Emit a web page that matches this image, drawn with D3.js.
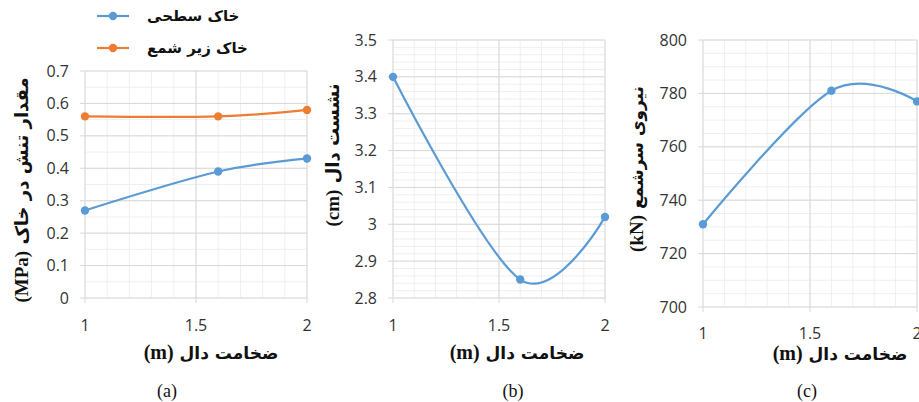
<!DOCTYPE html>
<html>
<head>
<meta charset="utf-8">
<script src="https://cdn.jsdelivr.net/npm/d3@7"></script>
<style>
  body { margin: 0; background: #fff; }
  svg { display: block; }
</style>
</head>
<body>
<svg id="chart" width="919" height="402"></svg>
<script>
// slab thickness (m)
const thickness = [1, 1.6, 2];
const xTicks = [1, 1.5, 2];

// (a) stress in soil (MPa)
const stressSurface = [0.27, 0.39, 0.43];
const stressUnderPile = [0.56, 0.56, 0.58];
const stressTicks = [0, 0.1, 0.2, 0.3, 0.4, 0.5, 0.6, 0.7];

// (b) slab settlement (cm)
const settlement = [3.4, 2.85, 3.02];
const settlementTicks = [2.8, 2.9, 3, 3.1, 3.2, 3.3, 3.4, 3.5];

// (c) pile-head force (kN)
const pileForce = [731, 781, 777];
const forceTicks = [700, 720, 740, 760, 780, 800];

const legendNames = ["خاک سطحی", "خاک زیر شمع"];
const xTitle = "ضخامت دال ";
const yTitles = ["مقدار تنش در خاک ", "نشست دال ", "نیروی سرشمع "];
const yUnits = ["(MPa)", "(cm)", "(kN)"];
const panelLetters = ["(a)", "(b)", "(c)"];

const blue = "#5b9bd5", orange = "#ed7d31";
const svg = d3.select("#chart");

function panel(p) {
    const g = svg.append("g");
    const x = d3.scaleLinear().domain([1, 2]).range([p.left, p.right]);
    const y = d3.scaleLinear().domain(p.yDomain).range([p.bottom, p.top]);

    // minor grid
    g.selectAll("line.minor-x")
        .data(d3.range(1, 2.0001, 0.1))
        .join("line")
        .attr("x1", d => x(d)).attr("x2", d => x(d))
        .attr("y1", p.top).attr("y2", p.bottom)
        .attr("stroke", "#efefef");
    g.selectAll("line.minor-y")
        .data(d3.range(p.yDomain[0], p.yDomain[1] + 1e-6, p.minor))
        .join("line")
        .attr("x1", p.left).attr("x2", p.right)
        .attr("y1", d => y(d)).attr("y2", d => y(d))
        .attr("stroke", "#efefef");

    // major grid + tick marks
    g.append("g").selectAll("line")
        .data(p.yTicks)
        .join("line")
        .attr("x1", p.left - 5).attr("x2", p.right)
        .attr("y1", d => y(d)).attr("y2", d => y(d))
        .attr("stroke", "#d9d9d9");
    g.append("g").selectAll("line")
        .data(xTicks)
        .join("line")
        .attr("x1", d => x(d)).attr("x2", d => x(d))
        .attr("y1", p.top).attr("y2", p.bottom + 5)
        .attr("stroke", "#d9d9d9");

    // tick labels
    g.append("g").selectAll("text")
        .data(p.yTicks)
        .join("text")
        .attr("x", p.left - 16)
        .attr("y", d => y(d))
        .attr("dy", "0.35em")
        .attr("text-anchor", "end")
        .attr("font-family", "Open Sans, sans-serif")
        .attr("font-size", 16)
        .attr("fill", "#333")
        .text(d => d);
    g.append("g").selectAll("text")
        .data(xTicks)
        .join("text")
        .attr("x", d => x(d))
        .attr("y", p.xLabelY)
        .attr("dy", "0.35em")
        .attr("text-anchor", "middle")
        .attr("font-family", "Open Sans, sans-serif")
        .attr("font-size", 16)
        .attr("fill", "#333")
        .text(d => d);

    // series
    const line = d3.line()
        .x((d, i) => x(thickness[i]))
        .y(d => y(d))
        .curve(d3.curveCardinal);
    p.series.forEach(s => {
        g.append("path")
            .attr("d", line(s.values))
            .attr("fill", "none")
            .attr("stroke", s.color)
            .attr("stroke-width", 2.2);
        g.append("g").selectAll("circle")
            .data(s.values)
            .join("circle")
            .attr("cx", (d, i) => x(thickness[i]))
            .attr("cy", d => y(d))
            .attr("r", 4.2)
            .attr("fill", s.color);
    });

    // axis titles
    const xt = g.append("text")
        .attr("x", p.xTitle[0]).attr("y", p.xTitle[1])
        .attr("dy", "0.35em")
        .attr("text-anchor", "middle")
        .attr("direction", "rtl")
        .attr("fill", "#111");
    xt.append("tspan").attr("font-family", "DejaVu Sans").attr("font-weight", "bold").attr("font-size", 17).text(xTitle);
    xt.append("tspan").attr("font-family", "Liberation Serif").attr("font-weight", "bold").attr("font-size", 20).text("(m)");

    const yt = g.append("text")
        .attr("transform", `translate(${p.yTitle[0]},${p.yTitle[1]}) rotate(-90)`)
        .attr("dy", "0.35em")
        .attr("text-anchor", "middle")
        .attr("direction", "rtl")
        .attr("fill", "#111");
    yt.append("tspan").attr("font-family", "DejaVu Sans").attr("font-weight", "bold").attr("font-size", p.yTitleSize).text(p.yTitleText);
    yt.append("tspan").attr("font-family", "Liberation Serif").attr("font-weight", "bold").attr("font-size", 19).text(p.yUnit);

    g.append("text")
        .attr("x", p.letter[0]).attr("y", p.letter[1])
        .attr("dy", "0.35em")
        .attr("text-anchor", "middle")
        .attr("font-family", "Liberation Serif")
        .attr("font-size", 18)
        .attr("fill", "#111")
        .text(p.letterText);
}

panel({
    left: 85, right: 307, top: 71, bottom: 298,
    yDomain: [0, 0.7], minor: 0.05, yTicks: stressTicks, xLabelY: 325,
    series: [{values: stressSurface, color: blue}, {values: stressUnderPile, color: orange}],
    xTitle: [211, 353], yTitle: [22, 190], yTitleText: yTitles[0], yTitleSize: 18, yUnit: yUnits[0],
    letter: [167, 391], letterText: panelLetters[0]
});
panel({
    left: 393, right: 605, top: 40, bottom: 298,
    yDomain: [2.8, 3.5], minor: 0.02, yTicks: settlementTicks, xLabelY: 325,
    series: [{values: settlement, color: blue}],
    xTitle: [517, 353], yTitle: [333, 155], yTitleText: yTitles[1], yTitleSize: 18, yUnit: yUnits[1],
    letter: [513, 391], letterText: panelLetters[1]
});
panel({
    left: 703, right: 917, top: 40, bottom: 307,
    yDomain: [700, 800], minor: 5, yTicks: forceTicks, xLabelY: 333,
    series: [{values: pileForce, color: blue}],
    xTitle: [840, 354], yTitle: [637, 169], yTitleText: yTitles[2], yTitleSize: 17, yUnit: yUnits[2],
    letter: [807, 391], letterText: panelLetters[2]
});

// legend for panel (a)
const legend = svg.append("g");
[{name: legendNames[0], color: blue, y: 16}, {name: legendNames[1], color: orange, y: 48}].forEach(d => {
    legend.append("line")
        .attr("x1", 97).attr("x2", 129)
        .attr("y1", d.y).attr("y2", d.y)
        .attr("stroke", d.color).attr("stroke-width", 2.2);
    legend.append("circle")
        .attr("cx", 113).attr("cy", d.y).attr("r", 4.2)
        .attr("fill", d.color);
    legend.append("text")
        .attr("x", 147).attr("y", d.y)
        .attr("dy", "0.35em")
        .attr("font-family", "DejaVu Sans")
        .attr("font-weight", "bold")
        .attr("font-size", 15)
        .attr("fill", "#111")
        .text(d.name);
});
</script>
</body>
</html>
